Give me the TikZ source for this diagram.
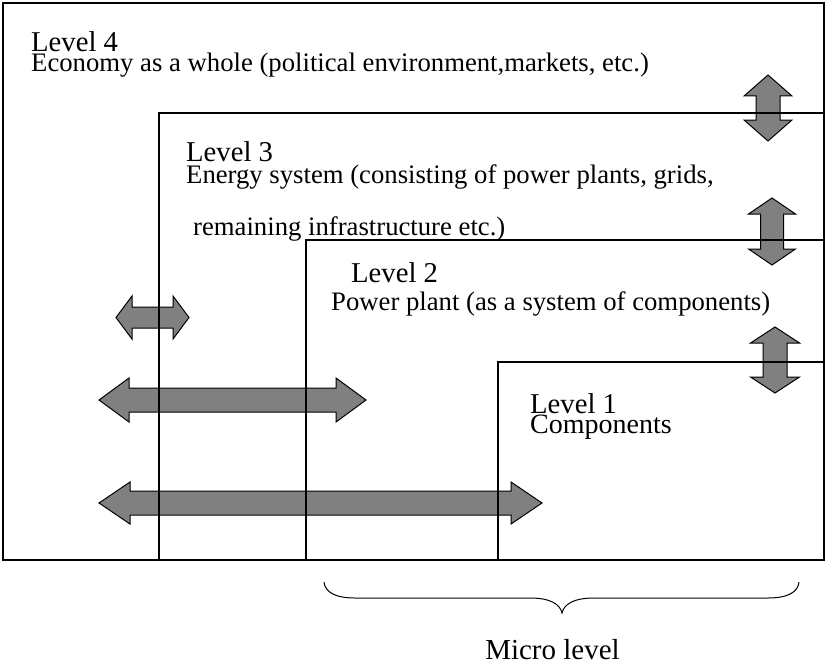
\documentclass[tikz,border=0pt]{standalone}
\usepackage{fontspec}
\setmainfont{Liberation Serif}
\newcommand\hdarr[6]{% x1 x2 y shafthalf headhalf headlen
  \draw[dbl] ({#1},{#3}) -- ({#1+#6},{#3-#5}) -- ({#1+#6},{#3-#4}) -- ({#2-#6},{#3-#4}) -- ({#2-#6},{#3-#5}) -- ({#2},{#3}) -- ({#2-#6},{#3+#5}) -- ({#2-#6},{#3+#4}) -- ({#1+#6},{#3+#4}) -- ({#1+#6},{#3+#5}) -- cycle;}
\newcommand\vdarr[6]{% x y1 y2 shafthalf headhalf headlen
  \draw[dbl] ({#1},{#2}) -- ({#1+#5},{#2+#6}) -- ({#1+#4},{#2+#6}) -- ({#1+#4},{#3-#6}) -- ({#1+#5},{#3-#6}) -- ({#1},{#3}) -- ({#1-#5},{#3-#6}) -- ({#1-#4},{#3-#6}) -- ({#1-#4},{#2+#6}) -- ({#1-#5},{#2+#6}) -- cycle;}
\begin{document}
\begin{tikzpicture}[x=1pt,y=-1pt,
  box/.style={draw=black,line width=1.2pt},
  dbl/.style={draw=black,fill=black!50,line width=1pt,line join=miter},
  lvl/.style={anchor=base west,inner sep=0pt,font=\fontsize{28.7}{32}\selectfont},
  desc/.style={anchor=base west,inner sep=0pt,font=\fontsize{26.7}{30}\selectfont}]
\useasboundingbox (0,0) rectangle (826,666);
% arrows
\hdarr{116}{189}{317.5}{10.5}{21.5}{16}
\hdarr{99}{366}{400}{12}{22}{30}
\hdarr{99}{542}{503}{12}{21}{31}
\vdarr{768}{75}{141}{12}{24}{21}
\vdarr{772}{198}{265}{11.5}{23.5}{16}
\vdarr{775}{327}{393}{12}{24.5}{16}
% boxes
\draw[box] (3,3) rectangle (824,560);
\draw[box] (159,113) rectangle (824,560);
\draw[box] (306,240) rectangle (824,560);
\draw[box] (498,362) rectangle (824,560);
\draw[line width=2.6pt] (498,560) -- (824,560);
% texts
\node[lvl] (l4) at (31,52) {Level 4};
\node[desc] (d4) at (31,72) {Economy as a whole (political environment,markets, etc.)};
\node[lvl] (l3) at (186,161) {Level 3};
\node[desc] (d3) at (186,183) {Energy system (consisting of power plants, grids,};
\node[desc] (d3b) at (193,235) {remaining infrastructure etc.)};
\node[lvl] (l2) at (351,282) {Level 2};
\node[desc] (d2) at (331,310) {Power plant (as a system of components)};
\node[lvl] (l1) at (530,413) {Level 1};
\node[desc,font=\fontsize{28}{30}\selectfont] (d1) at (530,433) {Components};
% brace
\coordinate (bl) at (324,582);
\coordinate (bt) at (562,613);
\coordinate (br) at (799,582);
\draw[line width=1pt] (bl) .. controls (325,592) and (335,598) .. (355,598) -- (530,598)
  .. controls (550,598) and (560,604) .. (bt)
  .. controls (564,604) and (574,598) .. (594,598) -- (768,598)
  .. controls (788,598) and (798,592) .. (br);
\node[anchor=base,inner sep=0pt,font=\fontsize{29}{32}\selectfont] (micro) at (552.5,659) {Micro level};
\end{tikzpicture}
\end{document}
